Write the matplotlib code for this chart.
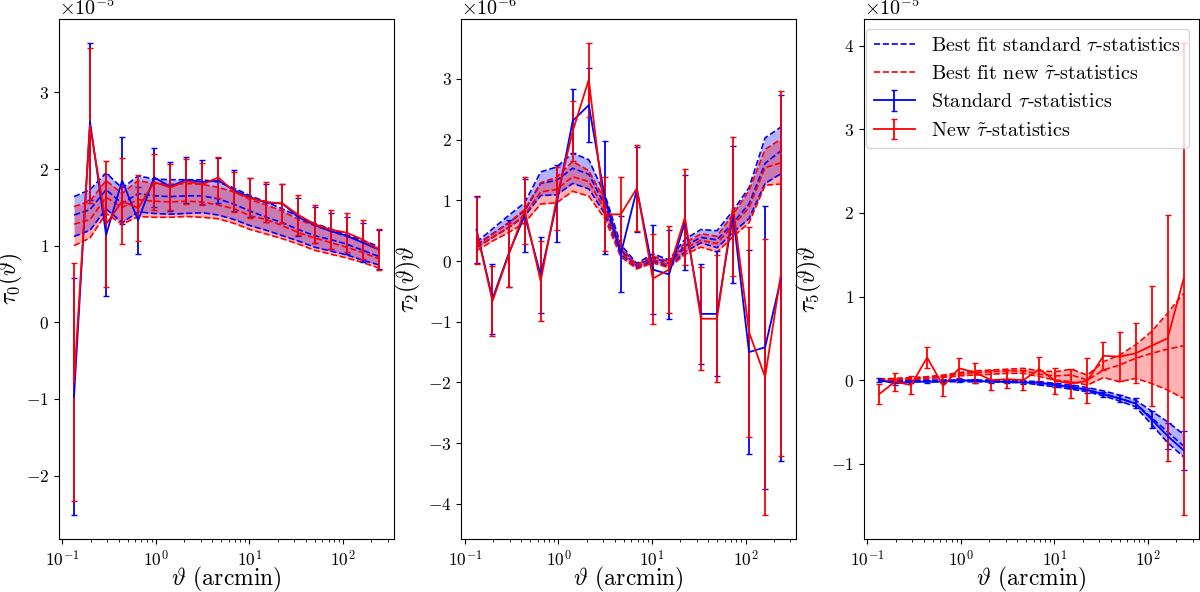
import numpy as np
import matplotlib
matplotlib.use("Agg")
import matplotlib.pyplot as plt
from matplotlib.ticker import MultipleLocator

plt.rcParams.update({
    "font.family": "serif",
    "font.serif": ["cmr10"],
    "mathtext.fontset": "cm",
    "axes.formatter.use_mathtext": True,
    "axes.unicode_minus": True,
})

# angular bins (arcmin)
theta = [0.133, 0.197, 0.293, 0.435, 0.645, 0.957, 1.42, 2.11, 3.13, 4.64,
         6.89, 10.2, 15.2, 22.5, 33.4, 49.6, 73.5, 109, 162, 240]

# ---------------- tau_0 (x 1e-5) ----------------
tau0_std = [-0.97, 2.62, 1.14, 1.85, 1.33, 1.89, 1.77, 1.86, 1.83, 1.85,
            1.72, 1.63, 1.56, 1.55, 1.37, 1.27, 1.19, 1.13, 1.04, 0.95]
tau0_std_err = [1.55, 1.03, 0.80, 0.57, 0.44, 0.38, 0.32, 0.30, 0.29, 0.29,
                0.27, 0.25, 0.25, 0.25, 0.25, 0.24, 0.24, 0.24, 0.25, 0.25]
tau0_new = [-0.78, 2.57, 1.28, 1.58, 1.49, 1.83, 1.76, 1.84, 1.80, 1.89,
            1.70, 1.62, 1.57, 1.55, 1.40, 1.28, 1.21, 1.17, 1.08, 0.95]
tau0_new_err = [1.55, 1.01, 0.82, 0.56, 0.43, 0.37, 0.30, 0.29, 0.275, 0.27,
                0.26, 0.26, 0.26, 0.26, 0.26, 0.25, 0.25, 0.25, 0.26, 0.27]
tau0_fit_std_hi = [1.64, 1.73, 1.95, 1.75, 1.91, 1.87, 1.86, 1.86, 1.86, 1.83,
                   1.75, 1.65, 1.57, 1.48, 1.38, 1.29, 1.22, 1.14, 1.07, 0.99]
tau0_fit_std_mid = [1.40, 1.47, 1.73, 1.55, 1.68, 1.65, 1.64, 1.65, 1.65, 1.61,
                    1.54, 1.45, 1.37, 1.30, 1.21, 1.13, 1.08, 1.02, 0.94, 0.86]
tau0_fit_std_lo = [1.12, 1.20, 1.48, 1.30, 1.44, 1.42, 1.41, 1.42, 1.43, 1.40,
                   1.34, 1.26, 1.20, 1.13, 1.06, 0.98, 0.93, 0.88, 0.81, 0.75]
tau0_fit_new_hi = [1.51, 1.58, 1.85, 1.68, 1.85, 1.81, 1.80, 1.81, 1.80, 1.76,
                   1.70, 1.60, 1.53, 1.45, 1.34, 1.26, 1.19, 1.12, 1.05, 0.96]
tau0_fit_new_mid = [1.28, 1.34, 1.63, 1.50, 1.60, 1.58, 1.57, 1.58, 1.57, 1.53,
                    1.48, 1.39, 1.34, 1.26, 1.17, 1.10, 1.04, 0.98, 0.91, 0.83]
tau0_fit_new_lo = [1.00, 1.10, 1.42, 1.28, 1.38, 1.37, 1.37, 1.38, 1.37, 1.35,
                   1.29, 1.21, 1.15, 1.09, 1.02, 0.94, 0.89, 0.84, 0.78, 0.71]

# ---------------- tau_2 * theta (x 1e-6) ----------------
tau2_std = [0.52, -0.62, 0.12, 0.75, -0.23, 0.95, 2.31, 2.57, 1.05, 0.12,
            1.18, -0.14, -0.22, 0.64, -0.87, -0.87, 0.77, -1.50, -1.42, -0.28]
tau2_std_err = [0.55, 0.58, 0.55, 0.60, 0.62, 0.64, 0.53, 0.61, 0.93, 0.63,
                0.70, 0.73, 0.73, 0.78, 0.83, 1.03, 1.13, 1.68, 2.33, 3.01]
tau2_new = [0.50, -0.66, 0.10, 0.83, -0.33, 1.03, 2.14, 2.99, 0.77, 0.77,
            1.20, -0.29, -0.14, 0.72, -0.95, -0.95, 0.90, -1.17, -1.91, -0.20]
tau2_new_err = [0.55, 0.58, 0.53, 0.55, 0.66, 0.52, 0.49, 0.61, 0.61, 0.61,
                0.71, 0.74, 0.72, 0.79, 0.85, 1.05, 1.15, 1.73, 2.28, 3.01]
tau2_fit_std_hi = [0.31, 0.53, 0.75, 0.96, 1.47, 1.55, 1.78, 1.67, 1.10, 0.27,
                   -0.04, 0.12, 0.02, 0.36, 0.52, 0.50, 0.83, 1.21, 2.03, 2.21]
tau2_fit_std_mid = [0.26, 0.45, 0.63, 0.83, 1.28, 1.33, 1.53, 1.43, 0.92, 0.18,
                    -0.08, 0.06, -0.04, 0.25, 0.39, 0.35, 0.63, 0.94, 1.61, 1.82]
tau2_fit_std_lo = [0.22, 0.39, 0.55, 0.74, 1.08, 1.09, 1.28, 1.19, 0.78, 0.11,
                   -0.11, 0.00, -0.09, 0.15, 0.30, 0.22, 0.47, 0.70, 1.28, 1.44]
tau2_fit_new_hi = [0.28, 0.44, 0.63, 0.85, 1.29, 1.38, 1.64, 1.49, 1.00, 0.22,
                   -0.06, 0.08, -0.01, 0.30, 0.45, 0.41, 0.77, 1.16, 1.84, 2.01]
tau2_fit_new_mid = [0.23, 0.39, 0.55, 0.76, 1.14, 1.18, 1.39, 1.31, 0.85, 0.14,
                    -0.09, 0.03, -0.07, 0.21, 0.34, 0.29, 0.59, 0.88, 1.54, 1.62]
tau2_fit_new_lo = [0.17, 0.33, 0.47, 0.63, 0.94, 0.96, 1.15, 1.07, 0.70, 0.07,
                   -0.13, -0.03, -0.11, 0.11, 0.23, 0.15, 0.40, 0.63, 1.25, 1.27]

# ---------------- tau_5 * theta (x 1e-5) ----------------
tau5_std = [0.0, -0.04, -0.02, -0.02, -0.02, 0.0, -0.01, -0.02, -0.02, -0.03,
            -0.03, -0.06, -0.08, -0.12, -0.17, -0.22, -0.28, -0.47, -0.67, -0.84]
tau5_std_err = [0.02, 0.02, 0.02, 0.02, 0.02, 0.02, 0.02, 0.02, 0.02, 0.02,
                0.02, 0.02, 0.02, 0.03, 0.03, 0.04, 0.06, 0.10, 0.16, 0.235]
tau5_new = [-0.17, -0.02, -0.06, 0.27, -0.07, 0.14, 0.09, 0.0, 0.01, 0.0,
            0.13, -0.01, -0.04, -0.01, 0.29, 0.28, 0.32, 0.41, 0.50, 1.21]
tau5_new_err = [0.12, 0.11, 0.11, 0.125, 0.12, 0.125, 0.12, 0.125, 0.11, 0.12,
                0.15, 0.155, 0.17, 0.27, 0.17, 0.29, 0.36, 0.72, 1.47, 2.83]
tau5_fit_std_hi = [0.01, 0.0, 0.0, 0.0, 0.0, 0.0, 0.0, 0.0, -0.01, -0.01,
                   -0.02, -0.04, -0.06, -0.09, -0.13, -0.18, -0.24, -0.37, -0.50, -0.65]
tau5_fit_std_mid = [0.0, -0.01, -0.01, -0.01, -0.01, -0.01, -0.01, -0.01, -0.02, -0.02,
                    -0.04, -0.06, -0.09, -0.12, -0.16, -0.22, -0.28, -0.45, -0.62, -0.79]
tau5_fit_std_lo = [-0.01, -0.02, -0.02, -0.02, -0.02, -0.02, -0.02, -0.02, -0.03, -0.03,
                   -0.06, -0.08, -0.11, -0.14, -0.19, -0.25, -0.32, -0.53, -0.75, -0.92]
tau5_fit_new_hi = [0.01, 0.02, 0.03, 0.04, 0.06, 0.09, 0.11, 0.12, 0.13, 0.14,
                   0.11, 0.10, 0.13, 0.06, 0.22, 0.30, 0.42, 0.58, 0.80, 1.04]
tau5_fit_new_mid = [0.0, 0.01, 0.02, 0.03, 0.05, 0.07, 0.09, 0.10, 0.11, 0.11,
                    0.07, 0.05, 0.06, 0.00, 0.12, 0.18, 0.26, 0.32, 0.37, 0.41]
tau5_fit_new_lo = [-0.01, 0.0, 0.01, 0.02, 0.03, 0.05, 0.06, 0.07, 0.08, 0.08,
                   0.04, 0.0, -0.02, -0.06, 0.03, -0.02, 0.02, -0.04, -0.12, -0.22]

panels = [
    dict(scale=1e-5, ylabel=r"$\tau_0(\vartheta)$", ylx=-0.100,
         std=tau0_std, std_err=tau0_std_err, new=tau0_new, new_err=tau0_new_err,
         s_hi=tau0_fit_std_hi, s_mid=tau0_fit_std_mid, s_lo=tau0_fit_std_lo,
         n_hi=tau0_fit_new_hi, n_mid=tau0_fit_new_mid, n_lo=tau0_fit_new_lo),
    dict(scale=1e-6, ylabel=r"$\tau_2(\vartheta)\vartheta$", ylx=-0.113,
         std=tau2_std, std_err=tau2_std_err, new=tau2_new, new_err=tau2_new_err,
         s_hi=tau2_fit_std_hi, s_mid=tau2_fit_std_mid, s_lo=tau2_fit_std_lo,
         n_hi=tau2_fit_new_hi, n_mid=tau2_fit_new_mid, n_lo=tau2_fit_new_lo),
    dict(scale=1e-5, ylabel=r"$\tau_5(\vartheta)\vartheta$", ylx=-0.118,
         std=tau5_std, std_err=tau5_std_err, new=tau5_new, new_err=tau5_new_err,
         s_hi=tau5_fit_std_hi, s_mid=tau5_fit_std_mid, s_lo=tau5_fit_std_lo,
         n_hi=tau5_fit_new_hi, n_mid=tau5_fit_new_mid, n_lo=tau5_fit_new_lo),
]

fig, axes = plt.subplots(1, 3, figsize=(12, 5.92), dpi=100)
fig.subplots_adjust(left=0.049, right=0.999, bottom=0.0895, top=0.968, wspace=0.2015)

x = np.array(theta)
for ax, p in zip(axes, panels):
    s = p["scale"]
    arr = lambda k: np.array(p[k]) * s
    # best-fit bands
    ax.fill_between(x, arr("s_lo"), arr("s_hi"), color="blue", alpha=0.3, lw=0)
    for k in ("s_hi", "s_lo"):
        ax.plot(x, arr(k), ls="--", color="blue", lw=1.2)
    l_std, = ax.plot(x, arr("s_mid"), ls="--", color="blue", lw=1.2)
    ax.fill_between(x, arr("n_lo"), arr("n_hi"), color="red", alpha=0.3, lw=0)
    for k in ("n_hi", "n_lo"):
        ax.plot(x, arr(k), ls="--", color="red", lw=1.2)
    l_new, = ax.plot(x, arr("n_mid"), ls="--", color="red", lw=1.2)
    # data
    e_std = ax.errorbar(x, arr("std"), yerr=arr("std_err"), color="blue", lw=1.3,
                        elinewidth=1.3, capsize=2, capthick=1.0)
    e_new = ax.errorbar(x, arr("new"), yerr=arr("new_err"), color="red", lw=1.3,
                        elinewidth=1.3, capsize=2, capthick=1.0)
    ax.set_xscale("log")
    ax.yaxis.set_major_locator(MultipleLocator(s))
    ax.set_xlabel(r"$\vartheta$ (arcmin)", fontsize=17, labelpad=-3)
    ax.set_ylabel(p["ylabel"], fontsize=17)
    ax.yaxis.set_label_coords(p["ylx"], 0.5)
    ax.tick_params(labelsize=12.5)
    ax.yaxis.get_offset_text().set_fontsize(14.5)

axes[2].legend([l_std, l_new, e_std, e_new],
               [r"Best fit standard $\tau$-statistics",
                r"Best fit new $\tilde{\tau}$-statistics",
                r"Standard $\tau$-statistics",
                r"New $\tilde{\tau}$-statistics"],
               loc="upper right", fontsize=14.5)

fig.savefig("out.png", dpi=100)
